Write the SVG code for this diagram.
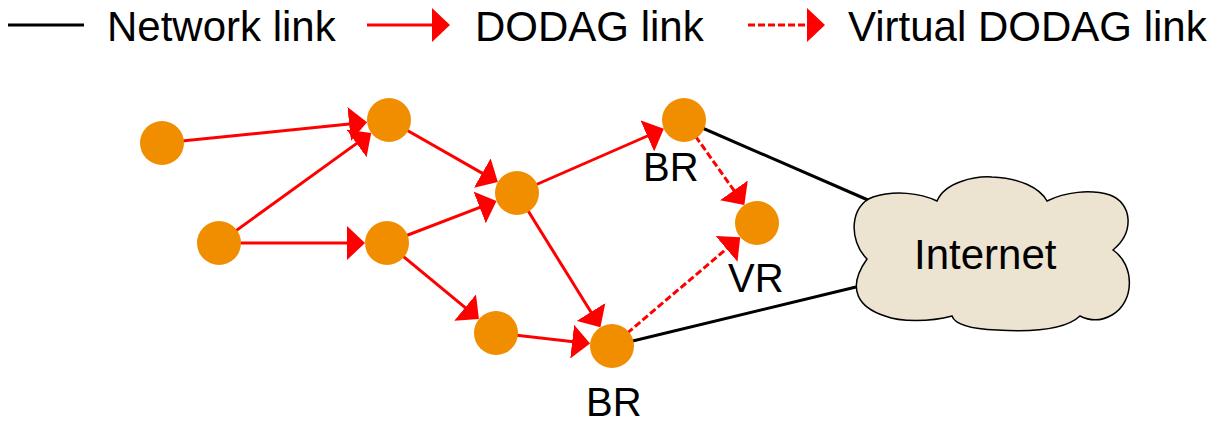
<svg xmlns="http://www.w3.org/2000/svg" width="1228" height="423" viewBox="0 0 1228 423">
  <style>
    .txt { font-family: "Liberation Sans", Arial, sans-serif; fill: #000; }
    .net { stroke: #000; stroke-width: 3; fill: none; }
    .dodag { stroke: #FF0000; stroke-width: 3; fill: none; marker-end: url(#arrow); }
    .virt { stroke: #FF0000; stroke-width: 3; fill: none; stroke-dasharray: 7 3; marker-end: url(#arrow); }
    .node { fill: #F08E00; }
  </style>
  <defs>
    <marker id="arrow" markerUnits="userSpaceOnUse" viewBox="0 0 18 34" markerWidth="18" markerHeight="34" refX="10" refY="17" orient="auto">
      <path d="M0,0 L18,17 L0,34 Z" fill="#FF0000"/>
    </marker>
  </defs>
  <rect width="1228" height="423" fill="#FFFFFF"/>

  <g id="legend">
    <line class="net" x1="8" y1="25" x2="84" y2="25"/>
    <text class="txt" x="107" y="41" font-size="42">Network link</text>
    <line class="dodag" x1="367" y1="25" x2="442" y2="25"/>
    <text class="txt" x="475" y="41" font-size="42">DODAG link</text>
    <line class="virt" x1="748" y1="25" x2="817" y2="25"/>
    <text class="txt" x="848" y="41" font-size="42">Virtual DODAG link</text>
  </g>

  <g id="connectors">
    <line class="net" x1="684" y1="120" x2="868" y2="200"/>
    <line class="net" x1="612" y1="346" x2="856" y2="287"/>
    <line class="dodag" x1="162" y1="143" x2="359.1" y2="123.0"/>
    <line class="dodag" x1="219" y1="243" x2="364.7" y2="137.6"/>
    <line class="dodag" x1="219" y1="243" x2="357" y2="243"/>
    <line class="dodag" x1="389" y1="120" x2="490.9" y2="178.1"/>
    <line class="dodag" x1="387" y1="243" x2="489.0" y2="203.8"/>
    <line class="dodag" x1="517" y1="193" x2="656.5" y2="132.0"/>
    <line class="dodag" x1="517" y1="193" x2="596.2" y2="320.5"/>
    <line class="dodag" x1="387" y1="243" x2="472.8" y2="313.9"/>
    <line class="dodag" x1="496" y1="333" x2="582.1" y2="342.7"/>
    <line class="virt" x1="684" y1="120" x2="739.7" y2="198.5"/>
    <line class="virt" x1="612" y1="346" x2="734.1" y2="242.4"/>
  </g>

  <g id="internet">
    <path d="M867,259 C848,240 850,205 873,197 C895,190 920,193 937,201 C945,182 975,176 992,177 C1020,178 1040,188 1047,201 C1065,192 1090,189 1110,195 C1132,203 1135,232 1113,250 C1135,265 1135,302 1112,315 C1100,322 1088,320 1080,316 C1065,330 1030,332 997,330 C970,329 955,325 952,316 C930,322 900,322 885,316 C860,308 845,290 867,259 Z" fill="#EDE3D1" stroke="#000" stroke-width="1.5"/>
    <text class="txt" x="914" y="269" font-size="42">Internet</text>
  </g>

  <g id="n1"><circle class="node" cx="162" cy="143" r="22"/></g>
  <g id="n2"><circle class="node" cx="389" cy="120" r="22"/></g>
  <g id="n3"><circle class="node" cx="219" cy="243" r="22"/></g>
  <g id="n4"><circle class="node" cx="387" cy="243" r="22"/></g>
  <g id="n5"><circle class="node" cx="517" cy="193" r="22"/></g>
  <g id="n6"><circle class="node" cx="684" cy="120" r="22"/><text class="txt" x="643" y="181" font-size="40">BR</text></g>
  <g id="n7"><circle class="node" cx="757" cy="223" r="22"/><text class="txt" x="728" y="292" font-size="40">VR</text></g>
  <g id="n8"><circle class="node" cx="496" cy="333" r="22"/></g>
  <g id="n9"><circle class="node" cx="612" cy="346" r="22"/><text class="txt" x="586" y="416" font-size="40">BR</text></g>
</svg>
